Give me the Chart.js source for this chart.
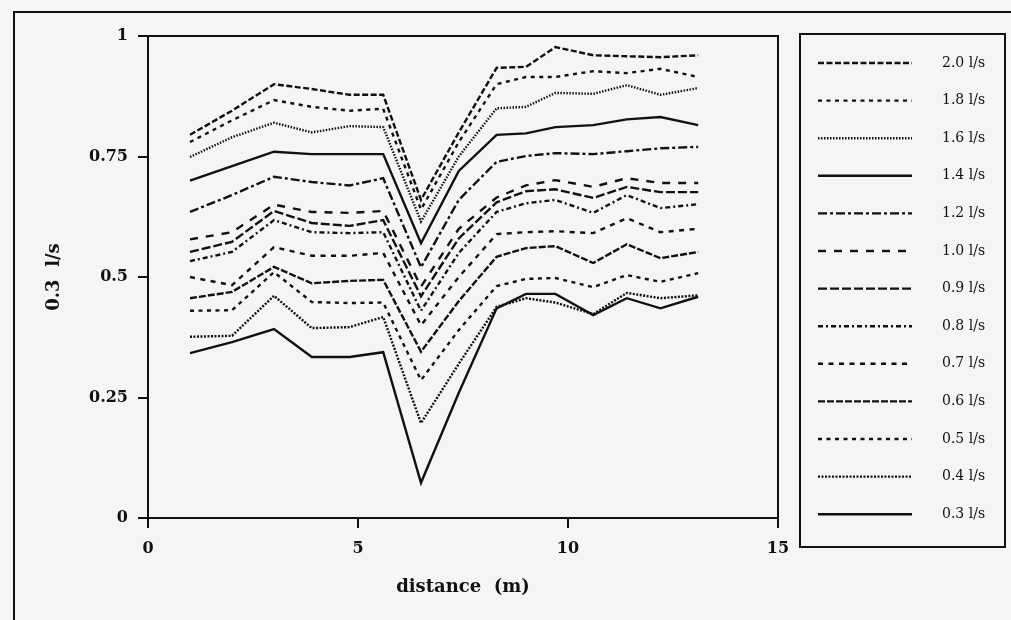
<!DOCTYPE html>
<html>
<head>
<meta charset="utf-8">
<script src="https://cdn.jsdelivr.net/npm/chart.js"></script>
<style>
  html, body { margin: 0; padding: 0; background: #f5f5f5; }
  #wrap { position: relative; width: 1011px; height: 620px; overflow: hidden; }
  #frame { position: absolute; left: 13px; top: 11px; width: 1000px; height: 700px;
           border-left: 2px solid #111; border-top: 2px solid #111; }
  #chart { position: absolute; left: 0; top: 0; }
</style>
</head>
<body>
<div id="wrap">
  <div id="frame"></div>
  <canvas id="chart" width="1011" height="620"></canvas>
</div>
<script>
// distance (m)
const distance = [1.0, 2.0, 3.0, 3.9, 4.8, 5.6, 6.5, 7.4, 8.3, 9.0, 9.7, 10.6, 11.4, 12.2, 13.1];

// one array per discharge
const q20 = [0.795, 0.845, 0.900, 0.890, 0.878, 0.878, 0.660, 0.800, 0.934, 0.936, 0.977, 0.960, 0.958, 0.956, 0.960];
const q18 = [0.780, 0.825, 0.867, 0.853, 0.845, 0.849, 0.640, 0.780, 0.900, 0.915, 0.915, 0.927, 0.923, 0.932, 0.915];
const q16 = [0.749, 0.790, 0.820, 0.800, 0.813, 0.811, 0.615, 0.750, 0.850, 0.853, 0.882, 0.880, 0.898, 0.878, 0.892];
const q14 = [0.700, 0.730, 0.760, 0.755, 0.755, 0.755, 0.570, 0.720, 0.795, 0.798, 0.811, 0.815, 0.827, 0.832, 0.815];
const q12 = [0.635, 0.670, 0.708, 0.697, 0.690, 0.705, 0.520, 0.660, 0.739, 0.751, 0.757, 0.755, 0.761, 0.767, 0.770];
const q10 = [0.578, 0.593, 0.650, 0.635, 0.633, 0.637, 0.480, 0.600, 0.665, 0.690, 0.701, 0.687, 0.705, 0.695, 0.695];
const q09 = [0.552, 0.573, 0.637, 0.612, 0.606, 0.618, 0.460, 0.580, 0.655, 0.678, 0.682, 0.664, 0.687, 0.676, 0.676];
const q08 = [0.533, 0.552, 0.618, 0.593, 0.591, 0.593, 0.430, 0.550, 0.635, 0.653, 0.660, 0.633, 0.670, 0.643, 0.651];
const q07 = [0.500, 0.483, 0.562, 0.544, 0.544, 0.550, 0.400, 0.500, 0.589, 0.593, 0.595, 0.591, 0.622, 0.593, 0.600];
const q06 = [0.456, 0.469, 0.521, 0.487, 0.492, 0.494, 0.345, 0.450, 0.542, 0.560, 0.564, 0.529, 0.568, 0.539, 0.552];
const q05 = [0.430, 0.431, 0.510, 0.448, 0.446, 0.447, 0.286, 0.390, 0.481, 0.496, 0.498, 0.479, 0.504, 0.490, 0.508];
const q04 = [0.376, 0.378, 0.461, 0.394, 0.396, 0.417, 0.197, 0.320, 0.438, 0.456, 0.447, 0.423, 0.467, 0.456, 0.462];
const q03 = [0.342, 0.365, 0.392, 0.334, 0.334, 0.344, 0.073, 0.260, 0.435, 0.465, 0.465, 0.421, 0.456, 0.435, 0.459];

const seriesLabels = ['2.0 l/s', '1.8 l/s', '1.6 l/s', '1.4 l/s', '1.2 l/s', '1.0 l/s', '0.9 l/s',
                      '0.8 l/s', '0.7 l/s', '0.6 l/s', '0.5 l/s', '0.4 l/s', '0.3 l/s'];
const seriesValues = [q20, q18, q16, q14, q12, q10, q09, q08, q07, q06, q05, q04, q03];
const dashes = [[6, 2.5], [4, 4.5], [1.5, 1.5], [], [9, 3, 3, 3], [8, 8], [9, 3],
                [5, 3, 2, 3], [5, 5.5], [7, 2], [4, 4.5], [2, 1.5], []];

const xTicks = [0, 5, 10, 15];
const xTickLabels = ['0', '5', '10', '15'];
const yTicks = [0, 0.25, 0.5, 0.75, 1];
const yTickLabels = ['0', '0.25', '0.5', '0.75', '1'];

const INK = '#111';
const SERIF = '"DejaVu Serif", "Liberation Serif", serif';

const datasets = seriesLabels.map((label, i) => ({
  label: label,
  data: distance.map((d, j) => ({ x: d, y: seriesValues[i][j] })),
  borderColor: INK,
  borderWidth: 2.4,
  borderDash: dashes[i],
  pointRadius: 0,
  fill: false,
  tension: 0
}));

// box round the plot area + the boxed legend on the right
const framePlugin = {
  id: 'framePlugin',
  afterDraw(chart) {
    const ctx = chart.ctx;
    const a = chart.chartArea;
    ctx.save();
    ctx.strokeStyle = INK;
    ctx.lineWidth = 2;
    ctx.setLineDash([]);
    ctx.strokeRect(a.left, a.top, a.right - a.left, a.bottom - a.top);

    // legend
    ctx.strokeRect(800, 34, 205, 513);
    ctx.font = '14px ' + SERIF;
    ctx.fillStyle = INK;
    ctx.textBaseline = 'middle';
    ctx.lineWidth = 2.4;
    chart.data.datasets.forEach((ds, i) => {
      const y = 63 + i * 37.6;
      ctx.setLineDash(ds.borderDash);
      ctx.beginPath();
      ctx.moveTo(818, y);
      ctx.lineTo(912, y);
      ctx.stroke();
      ctx.setLineDash([]);
      ctx.fillText(ds.label, 942, y);
    });
    ctx.restore();
  }
};

const ctx = document.getElementById('chart').getContext('2d');
new Chart(ctx, {
  type: 'line',
  data: { datasets: datasets },
  options: {
    responsive: false,
    animation: false,
    layout: { padding: { left: 0, top: 36, right: 233, bottom: 0 } },
    plugins: { legend: { display: false }, tooltip: { enabled: false } },
    scales: {
      x: {
        type: 'linear',
        min: 0, max: 15,
        afterFit: s => { s.height = 102; },
        afterBuildTicks: s => { s.ticks = xTicks.map(v => ({ value: v })); },
        border: { color: INK, width: 2 },
        grid: { drawOnChartArea: false, color: INK, lineWidth: 2, tickLength: 10 },
        ticks: {
          color: INK, padding: 11,
          font: { family: SERIF, size: 16, weight: 'bold' },
          callback: (v, i) => xTickLabels[i]
        },
        title: {
          display: true, text: 'distance  (m)', color: INK,
          font: { family: SERIF, size: 18, weight: 'bold' },
          padding: { top: 0, bottom: 22 }
        }
      },
      y: {
        min: 0, max: 1,
        afterFit: s => { s.width = 148; },
        afterBuildTicks: s => { s.ticks = yTicks.map(v => ({ value: v })); },
        border: { color: INK, width: 2 },
        grid: { drawOnChartArea: false, color: INK, lineWidth: 2, tickLength: 10 },
        ticks: {
          color: INK, padding: 10,
          font: { family: SERIF, size: 16, weight: 'bold' },
          callback: (v, i) => yTickLabels[i]
        },
        title: {
          display: true, text: '0.3  l/s', color: INK,
          font: { family: SERIF, size: 18, weight: 'bold' },
          padding: { top: 44, bottom: 0 }
        }
      }
    }
  },
  plugins: [framePlugin]
});
</script>
</body>
</html>
